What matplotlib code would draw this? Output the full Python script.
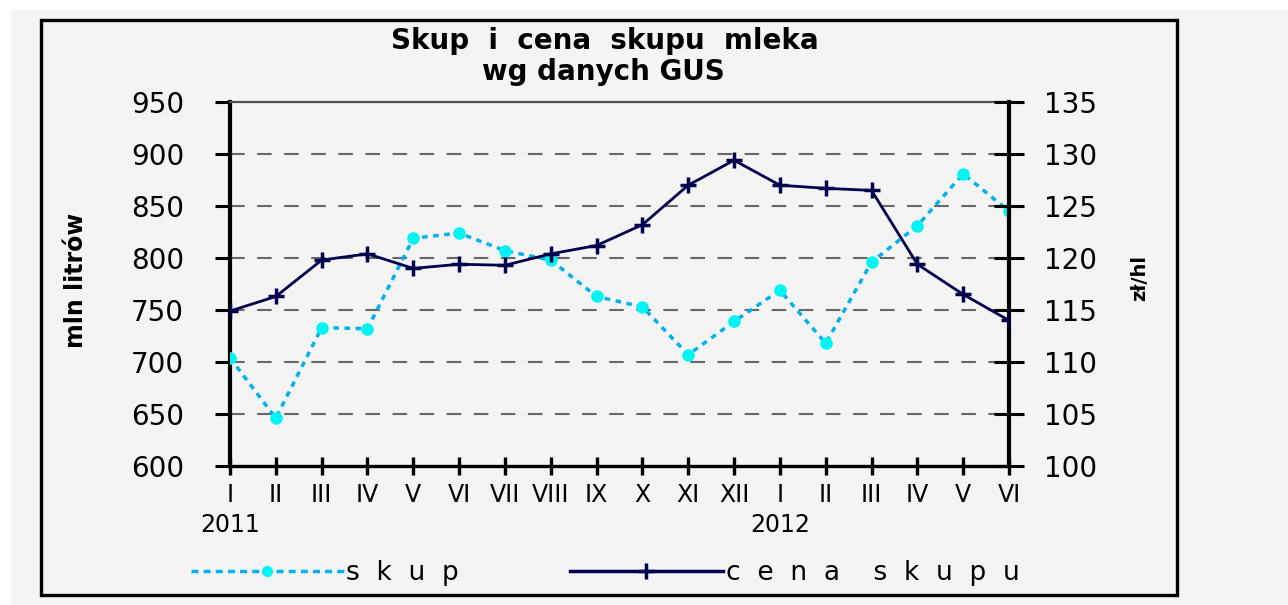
import matplotlib.pyplot as plt
import matplotlib.patches as patches
from matplotlib.lines import Line2D

months = ['I', 'II', 'III', 'IV', 'V', 'VI', 'VII', 'VIII', 'IX', 'X', 'XI', 'XII',
          'I', 'II', 'III', 'IV', 'V', 'VI']
years = {0: '2011', 12: '2012'}

# skup mleka, mln litrow (left axis)
skup = [704, 646, 733, 732, 819, 824, 807, 798, 763, 753, 707, 739,
        769, 718, 796, 831, 881, 845]
# cena skupu, zl/hl (right axis)
cena = [114.9, 116.3, 119.8, 120.4, 119.0, 119.4, 119.3, 120.4, 121.2, 123.2,
        127.0, 129.4, 127.0, 126.7, 126.5, 119.4, 116.5, 114.0]

bg = '#f4f4f4'
c_skup = '#00b0f0'
c_skup_mk = '#00f4f4'
c_cena = '#00004e'

fig = plt.figure(figsize=(12.88, 6.05), dpi=100, facecolor=bg)
plt.rcParams['font.family'] = 'DejaVu Sans'

# white strip at top/left, then outer frame
fig.add_artist(patches.Rectangle((0, 1 - 10 / 605), 1, 10 / 605, transform=fig.transFigure,
                                 facecolor='white', edgecolor='none', zorder=0))
fig.add_artist(patches.Rectangle((0, 0), 11 / 1288, 1, transform=fig.transFigure,
                                 facecolor='white', edgecolor='none', zorder=0))
fig.add_artist(patches.Rectangle((41 / 1288, 1 - 595 / 605), (1177 - 41) / 1288, (595 - 20) / 605,
                                 transform=fig.transFigure, facecolor='none',
                                 edgecolor='black', lw=2.4, zorder=1))

ax = fig.add_axes([230 / 1288, 1 - 466 / 605, 779 / 1288, 364 / 605])
ax.set_facecolor(bg)
x = list(range(len(months)))

ax.plot(x, skup, color=c_skup, lw=2.5, ls=(0, (1.6, 1.6)), marker='o', ms=8,
        mfc=c_skup_mk, mec=c_skup_mk, zorder=3)
ax.set_ylim(600, 950)
ax.set_xlim(0, len(months) - 1)
ax.set_yticks(range(600, 951, 50))
for v in range(650, 901, 50):
    ax.axhline(v, color='#686868', lw=1.5, ls=(0, (7, 6)), zorder=1)

ax.spines['top'].set_color('#505050')
ax.spines['top'].set_linewidth(1.6)
ax.spines['right'].set_visible(False)
ax.spines['left'].set_linewidth(3)
ax.spines['bottom'].set_linewidth(2.4)
ax.tick_params(axis='y', direction='out', length=11, width=2.2, pad=22, labelsize=20)

labels = [m + ('\n' + years[i] if i in years else '') for i, m in enumerate(months)]
ax.set_xticks(x)
ax.set_xticklabels(labels, fontsize=17, linespacing=1.3, va='top')
ax.tick_params(axis='x', direction='inout', length=13, width=2.4, pad=6)

ax2 = ax.twinx()
ax2.plot(x, cena, color=c_cena, lw=2, marker='+', ms=12, mew=2.5, zorder=4)
ax2.set_ylim(100, 135)
ax2.set_yticks(range(100, 136, 5))
for s in ['top', 'left', 'bottom']:
    ax2.spines[s].set_visible(False)
ax2.spines['right'].set_linewidth(3)
ax2.tick_params(axis='y', direction='inout', length=22, width=2.2, pad=14, labelsize=20)

fig.text(605 / 1288, 1 - 41 / 605, 'Skup  i  cena  skupu  mleka', ha='center', va='center',
         fontsize=20, fontweight='bold')
fig.text(603 / 1288, 1 - 72 / 605, 'wg danych GUS', ha='center', va='center',
         fontsize=20, fontweight='bold')
fig.text(76 / 1288, 1 - 280 / 605, 'mln litrów', rotation=90, ha='center', va='center',
         fontsize=17, fontweight='bold')
fig.text(1140 / 1288, 1 - 278 / 605, 'zł/hl', rotation=90, ha='center', va='center',
         fontsize=14, fontweight='bold')

h_skup = Line2D([], [], color=c_skup, lw=2.5, ls=(0, (2, 1.5)), marker='o', ms=7,
                mfc=c_skup_mk, mec=c_skup_mk)
h_cena = Line2D([], [], color=c_cena, lw=2.5, marker='+', ms=12, mew=2.5)
fig.legend([h_skup, h_cena], ['s  k  u  p', 'c  e  n  a    s  k  u  p  u'], ncol=2,
           frameon=False, loc='center', bbox_to_anchor=(605 / 1288, 1 - 573 / 605),
           fontsize=19, handlelength=5.8, handletextpad=0.1, columnspacing=4.2)

fig.savefig('out.png', dpi=100, facecolor=bg)
